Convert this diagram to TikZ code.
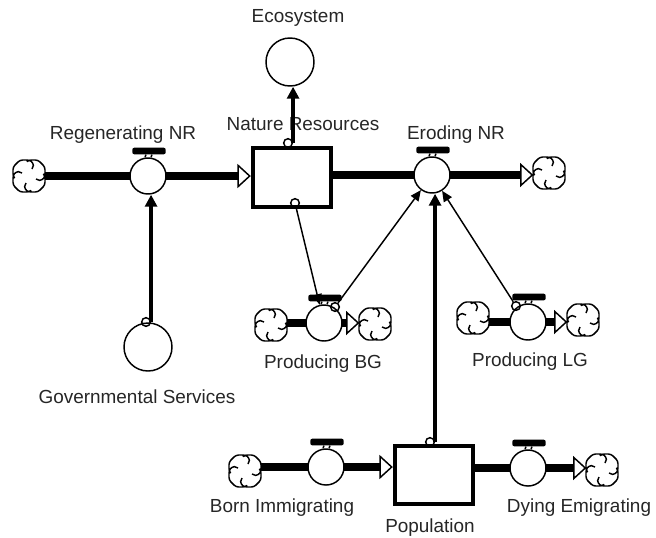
\documentclass[tikz,border=0pt]{standalone}
\usepackage{fontspec}
\setmainfont{Liberation Sans}
\usetikzlibrary{arrows.meta, backgrounds}

\tikzset{
    stock/.style={draw, line width=2.8pt, fill=white, minimum width=59pt, minimum height=44pt, inner sep=0pt},
    valve/.style={draw, circle, line width=1.1pt, fill=white, minimum size=27pt, inner sep=0pt},
    valvebar/.style={fill=black, rounded corners=1.5pt, minimum width=25pt, minimum height=5pt, inner sep=0pt},
    source/.style={circle, minimum size=23pt, inner sep=0pt},
    aux/.style={draw, circle, line width=1.1pt, fill=white, minimum size=36pt, inner sep=0pt},
    hook/.style={draw, circle, line width=1.1pt, minimum size=6.5pt, inner sep=0pt},
    lab/.style={font=\fontsize{14.2pt}{16pt}\selectfont, text=black!85, inner sep=0pt},
    pipe/.style={line width=6pt},
    inflow/.style={pipe, -{Triangle[fill=white, line width=1.1pt, length=10pt, width=18pt]}},
    strong/.style={line width=3.2pt, -{Triangle[length=9pt, width=9pt]}},
    weak/.style={line width=1.1pt, -{Triangle[length=8pt, width=7pt]}},
    pics/swirl/.style={code={
        \foreach \a in {0,90,180,270} {
            \draw[rotate=\a, line width=1.1pt, rounded corners=2pt] (-2,-14.5) -- (0,-16) -- (9,-16) -- (16,-9) -- (16,0) -- (15,2);
            \draw[rotate=\a, line width=1.1pt] (15,2) .. controls (12,5) and (9,5) .. (7,3);
        }
    }}
}

\begin{document}
\begin{tikzpicture}[x=0.75pt, y=-0.75pt]
    \useasboundingbox (0,0) rectangle (656,537);

    % Stocks
    \node[stock] (nature) at (292,177.5) {};
    \node[stock] (people) at (434,475) {};

    % Auxiliaries
    \node[aux] (eco) at (290,62) {};
    \node[aux] (gov) at (148,347) {};

    % Valves with their bars
    \foreach \n/\x/\y in {regen/148/176, erode/432/175, bg/324/323, lg/528/322, born/326/467, dying/528/468} {
        \node[valve] (\n) at (\x,\y) {};
        \node[valvebar] (\n bar) at (\x+1,\y-25) {};
        \foreach \d in {-3,3} {
            \draw[line width=1.1pt] ([xshift=\d*0.75pt]\n bar.south) -- ([xshift=\d*0.75pt]\n.north);
        }
    }

    % Clouds
    \foreach \n/\x/\y in {c1/29/176, c2/549/173, c3/271/325, c4/375/324, c5/473/318, c6/583/320, c7/245/471, c8/602/470} {
        \node[source] (\n) at (\x,\y) {};
        \pic at (\n) {swirl};
    }

    % Hooks
    \node[hook] (h1) at (146,322) {};
    \node[hook] (h2) at (288,143) {};
    \node[hook] (h3) at (295,203) {};
    \node[hook] (h4) at (335,307) {};
    \node[hook] (h5) at (516,306) {};
    \node[hook] (h6) at (430,442) {};

    % Labels
    \node[lab] (l1) at (123,135) {Regenerating NR};
    \node[lab] (l2) at (303,124) {Nature Resources};
    \node[lab] (l3) at (298,18) {Ecosystem};
    \node[lab] (l4) at (456,135) {Eroding NR};
    \node[lab] (l5) at (323,364) {Producing BG};
    \node[lab] (l6) at (530,362) {Producing LG};
    \node[lab] (l7) at (137,397) {Governmental Services};
    \node[lab] (l8) at (282,508) {Born Immigrating};
    \node[lab] (l9) at (430,528) {Population};
    \node[lab] (l10) at (579,508) {Dying Emigrating};

    % Flows
    \begin{scope}[on background layer]
        \draw[pipe] (c1.east |- regen) -- (regen.center);
        \draw[inflow] (regen.center) -- (regen -| nature.west);
        \draw[pipe] (nature.center |- erode) -- (erode.center);
        \draw[inflow] (erode.center) -- (erode -| c2.west);
        \draw[pipe] (c3.east |- bg) -- (bg.center);
        \draw[inflow] (bg.center) -- (bg -| c4.west);
        \draw[pipe] (c5.east |- lg) -- (lg.center);
        \draw[inflow] (lg.center) -- (lg -| c6.west);
        \draw[pipe] (c7.east |- born) -- (born.center);
        \draw[inflow] (born.center) -- (born -| people.west);
        \draw[pipe] (people.center |- dying) -- (dying.center);
        \draw[inflow] (dying.center) -- (dying -| c8.west);
    \end{scope}

    % Connectors
    \draw[strong] (h1.east) -- (h1.east |- regen.south);
    \draw[strong] (h2.east) -- (h2.east |- eco.south);
    \draw[strong] (h6.east) -- (h6.east |- erode.south);
    \draw[weak] (h3) -- (bg);
    \draw[weak] (h4) -- (erode);
    \draw[weak] (h5) -- (erode);
\end{tikzpicture}
\end{document}
